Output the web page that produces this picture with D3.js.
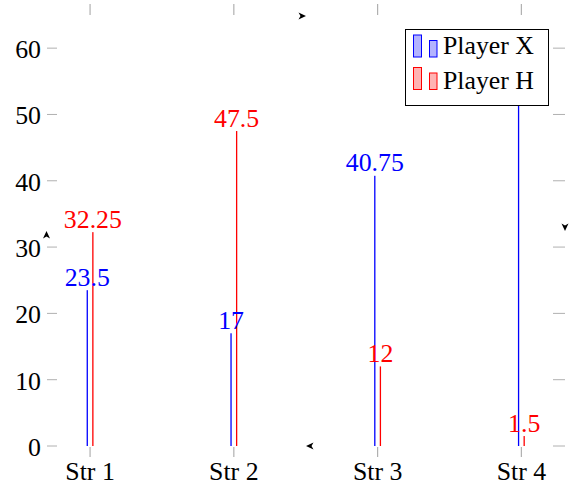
<!DOCTYPE html>
<html>
<head>
<meta charset="utf-8">
<script src="https://cdn.jsdelivr.net/npm/d3@7"></script>
</head>
<body style="margin:0;background:#fff">
<script>
const categories = ["Str 1", "Str 2", "Str 3", "Str 4"];
const playerX = [23.5, 17, 40.75, 55];
const playerH = [32.25, 47.5, 12, 1.5];
const yTicks = [0, 10, 20, 30, 40, 50, 60];
const seriesNames = ["Player X", "Player H"];
const seriesColors = ["#0000ff", "#ff0000"];
const seriesFills = ["#b3b3ff", "#ffb3b3"];

(function () {
const W = 574, H = 486;
const FONT = "Liberation Serif";
const svg = d3.select("body").append("svg").attr("width", W).attr("height", H)
  .style("display", "block");

const pL = 57, pR = 553, pT = 15, pB = 446;
const x = d3.scaleLinear().domain([0.77, 4.22]).range([pL, pR]);
const y = d3.scaleLinear().domain([0, 65]).range([pB, pT]);
const fs = 25.8;
const tickColor = "#b0b0b0";

const g = svg.append("g");
yTicks.forEach(t => {
  g.append("line").attr("x1", pL - 10).attr("x2", pL).attr("y1", y(t)).attr("y2", y(t))
    .attr("stroke", tickColor).attr("stroke-width", 1);
  g.append("line").attr("x1", pR).attr("x2", pR + 12).attr("y1", y(t)).attr("y2", y(t))
    .attr("stroke", tickColor).attr("stroke-width", 1);
  g.append("text").attr("x", pL - 16).attr("y", y(t) + 10).attr("text-anchor", "end")
    .attr("font-family", FONT).attr("font-size", fs).attr("fill", "#000").text(t);
});
categories.forEach((c, i) => {
  const cx = x(i + 1);
  g.append("line").attr("x1", cx).attr("x2", cx).attr("y1", pB + 1).attr("y2", pB + 11)
    .attr("stroke", tickColor).attr("stroke-width", 1.2);
  g.append("line").attr("x1", cx).attr("x2", cx).attr("y1", pT - 11).attr("y2", pT)
    .attr("stroke", tickColor).attr("stroke-width", 1.2);
  g.append("text").attr("x", cx).attr("y", 479.5).attr("text-anchor", "middle")
    .attr("font-family", FONT).attr("font-size", fs).attr("fill", "#000").text(c);
});

function arrow(cx, cy, angle) {
  svg.append("path")
    .attr("d", "M4,0 L-3.5,-3.5 L-1.5,0 L-3.5,3.5 Z")
    .attr("transform", `translate(${cx},${cy}) rotate(${angle})`)
    .attr("fill", "#000");
}
arrow(302, 16, 0);
arrow(565, 227, 90);
arrow(310, 446, 180);
arrow(46.5, 235, -90);

const offsets = [-2.8, 2.8];
[playerX, playerH].forEach((vals, s) => {
  vals.forEach((v, i) => {
    const cx = x(i + 1) + offsets[s];
    svg.append("rect").attr("x", cx - 0.65).attr("width", 1.3)
      .attr("y", y(v)).attr("height", y(0) - y(v))
      .attr("fill", seriesColors[s]);
  });
});

const legBox = { x: 405.5, y: 29.5, w: 143, h: 76 };
[playerX, playerH].forEach((vals, s) => {
  vals.forEach((v, i) => {
    const cx = x(i + 1) + offsets[s];
    const by = y(v) - 4.5;
    const hidden = cx > legBox.x && cx < legBox.x + legBox.w && by - 17 > legBox.y && by < legBox.y + legBox.h;
    if (hidden) return;
    svg.append("text").attr("x", cx).attr("y", by).attr("text-anchor", "middle")
      .attr("font-family", FONT).attr("font-size", fs).attr("fill", seriesColors[s]).text(v);
  });
});

const lg = svg.append("g");
lg.append("rect").attr("x", legBox.x).attr("y", legBox.y).attr("width", legBox.w).attr("height", legBox.h)
  .attr("fill", "#fff").attr("stroke", "#000").attr("stroke-width", 1);
const rowTops = [35, 67.5];
seriesNames.forEach((name, s) => {
  const t0 = rowTops[s];
  const base = t0 + 22;
  lg.append("rect").attr("x", 413.5).attr("y", t0).attr("width", 8).attr("height", base - t0)
    .attr("fill", seriesFills[s]).attr("stroke", seriesColors[s]).attr("stroke-width", 1);
  lg.append("rect").attr("x", 429.5).attr("y", t0 + 5.5).attr("width", 7.5).attr("height", base - t0 - 5.5)
    .attr("fill", seriesFills[s]).attr("stroke", seriesColors[s]).attr("stroke-width", 1);
  lg.append("text").attr("x", 443).attr("y", s === 0 ? 53.5 : 88.5)
    .attr("font-family", FONT).attr("font-size", fs).attr("fill", "#000").text(name);
});
})();
</script>
</body>
</html>
